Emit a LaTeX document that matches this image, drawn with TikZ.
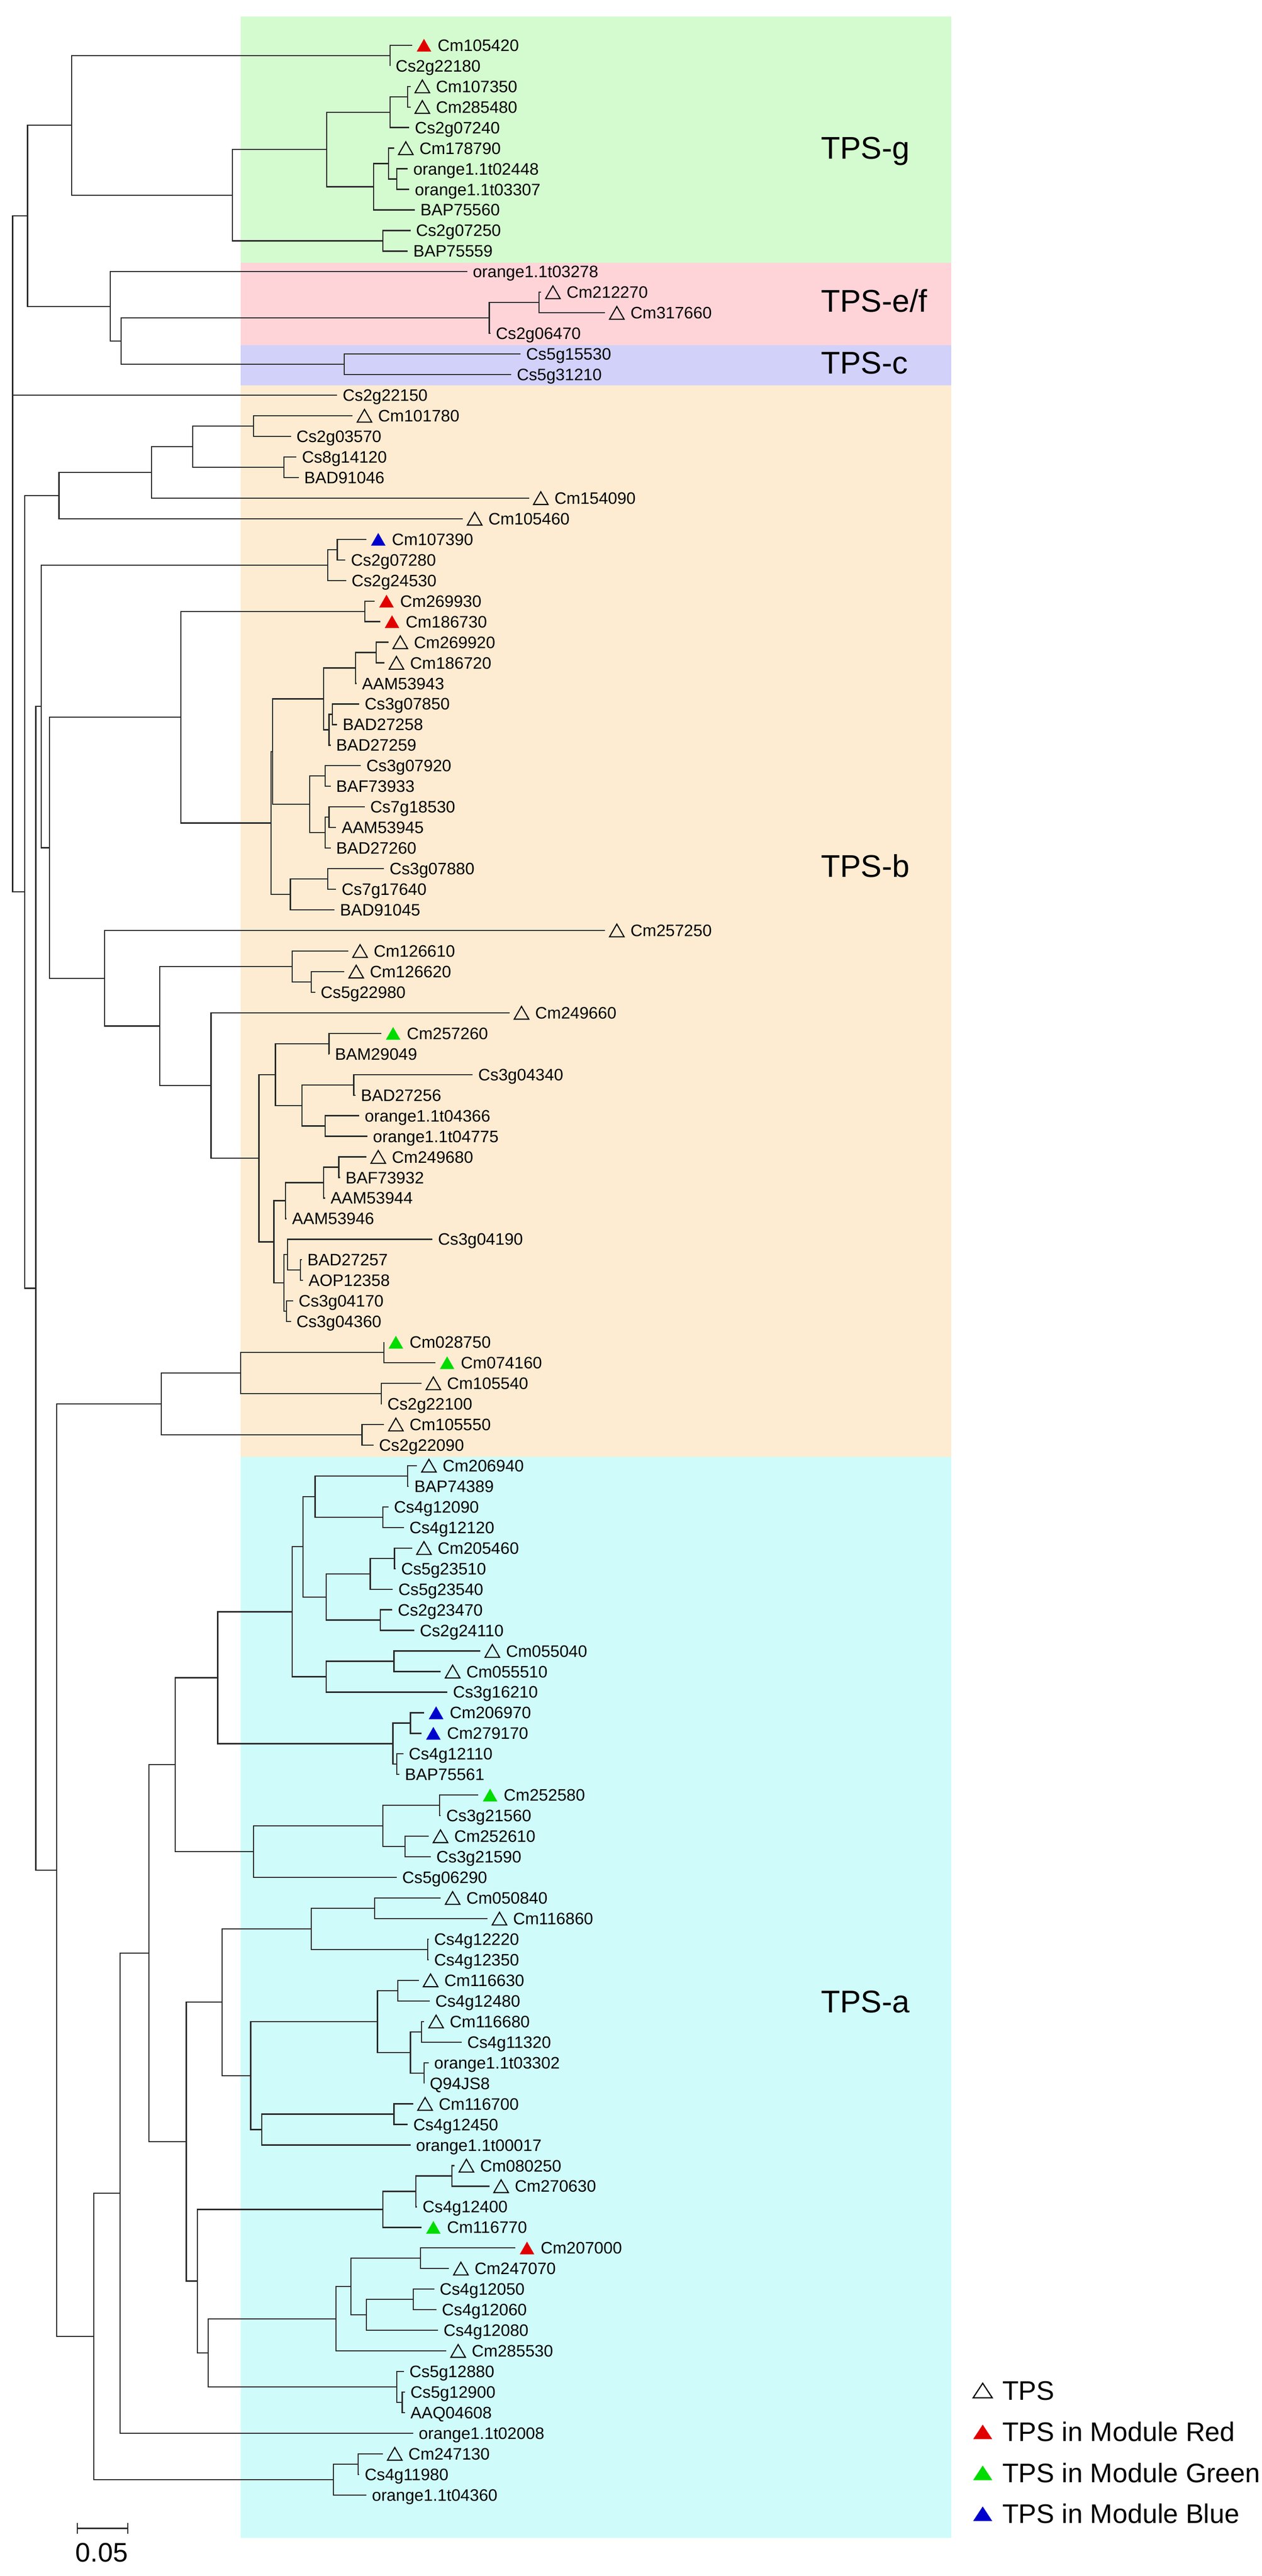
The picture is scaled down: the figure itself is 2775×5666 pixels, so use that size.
\documentclass[tikz,border=0pt]{standalone}
\usepackage{fontspec}
\setmainfont{Liberation Sans}
\usetikzlibrary{calc}
\definecolor{bgG}{RGB}{212,251,207}
\definecolor{bgP}{RGB}{255,212,217}
\definecolor{bgL}{RGB}{209,209,250}
\definecolor{bgO}{RGB}{253,236,209}
\definecolor{bgC}{RGB}{207,252,250}
\definecolor{brc}{RGB}{40,40,40}
\definecolor{mkR}{RGB}{225,0,0}
\definecolor{mkG}{RGB}{0,220,0}
\definecolor{mkB}{RGB}{0,0,205}
\tikzset{
  branch/.style={draw=brc,line width=2.6pt,line join=miter},
  lab/.style={anchor=west,inner sep=0pt,font={\fontsize{36.5}{41}\selectfont},text height=26.1pt,text depth=0pt},
  clab/.style={anchor=west,inner sep=0pt,font={\fontsize{69}{80}\selectfont},text height=49.4pt,text depth=0pt},
  glab/.style={anchor=west,inner sep=0pt,font={\fontsize{59}{68}\selectfont},text height=42.2pt,text depth=0pt},
  mo/.style={draw=black,line width=2.4pt,line join=miter,fill=none},
  mr/.style={fill=mkR},
  mg/.style={fill=mkG},
  mb/.style={fill=mkB},
}
\newcommand\LF[3]{%
  \coordinate (t#1) at ({#2*1.2117},{99.5+(#1-1)*45.28});
  \node[lab] (l#1) at ([xshift=12pt]t#1) {#3};}
\newcommand\LM[4]{%
  \coordinate (t#1) at ({#2*1.2117},{99.5+(#1-1)*45.28});
  \path[#4] ([xshift=10pt,yshift=-14pt]t#1) -- ++(16pt,28pt) -- ++(16pt,-28pt) -- cycle;
  \node[lab] (l#1) at ([xshift=56pt]t#1) {#3};}
\newcommand\CL[4]{%
  \path let \p1=($(#3)!0.5!(#4)$) in ({#2*1.2117},\y1) coordinate (#1);
  \draw[branch] (#3) -- (#3 -| #1) -- (#4 -| #1) -- (#4);}
\begin{document}
\begin{tikzpicture}[x=1pt,y=-1pt]
\useasboundingbox (0,0) rectangle (2775,5666);
\fill[white] (0,0) rectangle (2775,5666);
% clade bands
\fill[bgG] (529.5,36) rectangle (2092,578);
\fill[bgP] (529.5,578) rectangle (2092,759);
\fill[bgL] (529.5,759) rectangle (2092,848);
\fill[bgO] (529.5,848) rectangle (2092,3205);
\fill[bgC] (529.5,3205) rectangle (2092,5582);
\node[clab] (TPSg) at (1805,325) {TPS-g};
\node[clab] (TPSef) at (1805,661) {TPS-e/f};
\node[clab] (TPSc) at (1805,797) {TPS-c};
\node[clab] (TPSb) at (1805,1905) {TPS-b};
\node[clab] (TPSa) at (1805,4402) {TPS-a};
% leaves
\LM{1}{748}{Cm105420}{mr}
\LF{2}{708}{Cs2g22180}
\LM{3}{745}{Cm107350}{mo}
\LM{4}{745}{Cm285480}{mo}
\LF{5}{743}{Cs2g07240}
\LM{6}{715}{Cm178790}{mo}
\LF{7}{740}{orange1.1t02448}
\LF{8}{743}{orange1.1t03307}
\LF{9}{753}{BAP75560}
\LF{10}{745}{Cs2g07250}
\LF{11}{740}{BAP75559}
\LF{12}{848}{orange1.1t03278}
\LM{13}{982}{Cm212270}{mo}
\LM{14}{1098}{Cm317660}{mo}
\LF{15}{890}{Cs2g06470}
\LF{16}{945}{Cs5g15530}
\LF{17}{928}{Cs5g31210}
\LF{18}{612}{Cs2g22150}
\LM{19}{640}{Cm101780}{mo}
\LF{20}{528}{Cs2g03570}
\LF{21}{538}{Cs8g14120}
\LF{22}{542}{BAD91046}
\LM{23}{960}{Cm154090}{mo}
\LM{24}{840}{Cm105460}{mo}
\LM{25}{665}{Cm107390}{mb}
\LF{26}{627}{Cs2g07280}
\LF{27}{628}{Cs2g24530}
\LM{28}{680}{Cm269930}{mr}
\LM{29}{690}{Cm186730}{mr}
\LM{30}{705}{Cm269920}{mo}
\LM{31}{698}{Cm186720}{mo}
\LF{32}{647}{AAM53943}
\LF{33}{652}{Cs3g07850}
\LF{34}{612}{BAD27258}
\LF{35}{600}{BAD27259}
\LF{36}{655}{Cs3g07920}
\LF{37}{600}{BAF73933}
\LF{38}{662}{Cs7g18530}
\LF{39}{610}{AAM53945}
\LF{40}{600}{BAD27260}
\LF{41}{697}{Cs3g07880}
\LF{42}{610}{Cs7g17640}
\LF{43}{607}{BAD91045}
\LM{44}{1098}{Cm257250}{mo}
\LM{45}{632}{Cm126610}{mo}
\LM{46}{625}{Cm126620}{mo}
\LF{47}{572}{Cs5g22980}
\LM{48}{925}{Cm249660}{mo}
\LM{49}{692}{Cm257260}{mg}
\LF{50}{598}{BAM29049}
\LF{51}{858}{Cs3g04340}
\LF{52}{645}{BAD27256}
\LF{53}{652}{orange1.1t04366}
\LF{54}{667}{orange1.1t04775}
\LM{55}{665}{Cm249680}{mo}
\LF{56}{617}{BAF73932}
\LF{57}{590}{AAM53944}
\LF{58}{520}{AAM53946}
\LF{59}{785}{Cs3g04190}
\LF{60}{548}{BAD27257}
\LF{61}{550}{AOP12358}
\LF{62}{532}{Cs3g04170}
\LF{63}{528}{Cs3g04360}
\LM{64}{697}{Cm028750}{mg}
\LM{65}{790}{Cm074160}{mg}
\LM{66}{765}{Cm105540}{mo}
\LF{67}{693}{Cs2g22100}
\LM{68}{697}{Cm105550}{mo}
\LF{69}{678}{Cs2g22090}
\LM{70}{757}{Cm206940}{mo}
\LF{71}{742}{BAP74389}
\LF{72}{705}{Cs4g12090}
\LF{73}{733}{Cs4g12120}
\LM{74}{748}{Cm205460}{mo}
\LF{75}{718}{Cs5g23510}
\LF{76}{713}{Cs5g23540}
\LF{77}{712}{Cs2g23470}
\LF{78}{752}{Cs2g24110}
\LM{79}{872}{Cm055040}{mo}
\LM{80}{800}{Cm055510}{mo}
\LF{81}{812}{Cs3g16210}
\LM{82}{770}{Cm206970}{mb}
\LM{83}{765}{Cm279170}{mb}
\LF{84}{732}{Cs4g12110}
\LF{85}{725}{BAP75561}
\LM{86}{868}{Cm252580}{mg}
\LF{87}{800}{Cs3g21560}
\LM{88}{778}{Cm252610}{mo}
\LF{89}{782}{Cs3g21590}
\LF{90}{720}{Cs5g06290}
\LM{91}{800}{Cm050840}{mo}
\LM{92}{885}{Cm116860}{mo}
\LF{93}{778}{Cs4g12220}
\LF{94}{778}{Cs4g12350}
\LM{95}{760}{Cm116630}{mo}
\LF{96}{780}{Cs4g12480}
\LM{97}{770}{Cm116680}{mo}
\LF{98}{838}{Cs4g11320}
\LF{99}{778}{orange1.1t03302}
\LF{100}{770}{Q94JS8}
\LM{101}{750}{Cm116700}{mo}
\LF{102}{740}{Cs4g12450}
\LF{103}{745}{orange1.1t00017}
\LM{104}{825}{Cm080250}{mo}
\LM{105}{888}{Cm270630}{mo}
\LF{106}{757}{Cs4g12400}
\LM{107}{765}{Cm116770}{mg}
\LM{108}{935}{Cm207000}{mr}
\LM{109}{815}{Cm247070}{mo}
\LF{110}{788}{Cs4g12050}
\LF{111}{792}{Cs4g12060}
\LF{112}{795}{Cs4g12080}
\LM{113}{810}{Cm285530}{mo}
\LF{114}{733}{Cs5g12880}
\LF{115}{735}{Cs5g12900}
\LF{116}{735}{AAQ04608}
\LF{117}{750}{orange1.1t02008}
\LM{118}{695}{Cm247130}{mo}
\LF{119}{652}{Cs4g11980}
\LF{120}{665}{orange1.1t04360}
% TPS-g / e/f / c
\CL{A}{708}{t1}{t2}
\CL{B}{740}{t3}{t4}
\CL{C}{708}{B}{t5}
\CL{D}{720}{t7}{t8}
\CL{E}{705}{t6}{D}
\CL{F}{678}{E}{t9}
\CL{G}{593}{C}{F}
\CL{H}{695}{t10}{t11}
\CL{I}{422}{G}{H}
\CL{J}{130}{A}{I}
\CL{K}{978}{t13}{t14}
\CL{L}{888}{K}{t15}
\CL{M}{625}{t16}{t17}
\CL{N}{220}{L}{M}
\CL{O}{200}{t12}{N}
\CL{P}{50}{J}{O}
% TPS-b
\CL{b460}{460}{t19}{t20}
\CL{b515}{515}{t21}{t22}
\CL{b350}{350}{b460}{b515}
\CL{b275}{275}{b350}{t23}
\CL{R}{107}{b275}{t24}
\CL{b612}{612}{t25}{t26}
\CL{b595}{595}{b612}{t27}
\CL{b662}{662}{t28}{t29}
\CL{b683}{683}{t30}{t31}
\CL{b645}{645}{b683}{t32}
\CL{b603}{603}{t33}{t34}
\CL{b597}{597}{b603}{t35}
\CL{b587}{587}{b645}{b597}
\CL{b590a}{590}{t36}{t37}
\CL{b597b}{597}{t38}{t39}
\CL{b590b}{590}{b597b}{t40}
\CL{b562}{562}{b590a}{b590b}
\CL{bZ}{495}{b587}{b562}
\CL{b595b}{595}{t41}{t42}
\CL{b527}{527}{b595b}{t43}
\CL{b493}{492}{bZ}{b527}
\CL{b328}{328}{b662}{b493}
\CL{b565}{565}{t46}{t47}
\CL{b530}{530}{t45}{b565}
\CL{b597c}{597}{t49}{t50}
\CL{b642}{642}{t51}{t52}
\CL{b590c}{590}{t53}{t54}
\CL{b548}{548}{b642}{b590c}
\CL{b500}{500}{b597c}{b548}
\CL{b615}{615}{t55}{t56}
\CL{b587b}{587}{b615}{t57}
\CL{b518}{518}{b587b}{t58}
\CL{b545}{545}{t60}{t61}
\CL{b522}{522}{t59}{b545}
\CL{b520}{520}{t62}{t63}
\CL{b515b}{515}{b522}{b520}
\CL{b497}{497}{b518}{b515b}
\CL{b470}{470}{b500}{b497}
\CL{b383}{383}{t48}{b470}
\CL{b290}{290}{b530}{b383}
\CL{b190}{190}{t44}{b290}
\CL{b90}{90}{b328}{b190}
\CL{b75}{75}{b595}{b90}
\CL{b697}{697}{t64}{t65}
\CL{b692}{692}{t66}{t67}
\CL{b437}{437}{b697}{b692}
\CL{b657}{657}{t68}{t69}
\CL{b293}{293}{b437}{b657}
% TPS-a
\CL{a740}{740}{t70}{t71}
\CL{a695}{695}{t72}{t73}
\CL{a572}{572}{a740}{a695}
\CL{a716}{716}{t74}{t75}
\CL{a672}{672}{a716}{t76}
\CL{a690}{690}{t77}{t78}
\CL{a592}{592}{a672}{a690}
\CL{a550}{550}{a572}{a592}
\CL{a715}{715}{t79}{t80}
\CL{a592b}{592}{a715}{t81}
\CL{a530}{530}{a550}{a592b}
\CL{a745}{745}{t82}{t83}
\CL{a720}{720}{t84}{t85}
\CL{a713}{713}{a745}{a720}
\CL{a395}{395}{a530}{a713}
\CL{a798}{798}{t86}{t87}
\CL{a735}{735}{t88}{t89}
\CL{a695b}{695}{a798}{a735}
\CL{a460}{460}{a695b}{t90}
\CL{a318}{318}{a395}{a460}
\CL{a680}{680}{t91}{t92}
\CL{a776}{776}{t93}{t94}
\CL{a565}{565}{a680}{a776}
\CL{a722}{722}{t95}{t96}
\CL{a765}{765}{t97}{t98}
\CL{a770}{770}{t99}{t100}
\CL{a745b}{745}{a765}{a770}
\CL{a685}{685}{a722}{a745b}
\CL{a715b}{715}{t101}{t102}
\CL{a475}{475}{a715b}{t103}
\CL{a455}{455}{a685}{a475}
\CL{a403}{403}{a565}{a455}
\CL{a820}{820}{t104}{t105}
\CL{a755}{755}{a820}{t106}
\CL{a695c}{695}{a755}{t107}
\CL{a763}{763}{t108}{t109}
\CL{a750}{750}{t110}{t111}
\CL{a665}{665}{a750}{t112}
\CL{a637}{637}{a763}{a665}
\CL{a610}{610}{a637}{t113}
\CL{a730}{730}{t115}{t116}
\CL{a720b}{720}{t114}{a730}
\CL{a378}{378}{a610}{a720b}
\CL{a358}{358}{a695c}{a378}
\CL{a338}{338}{a403}{a358}
\CL{a270}{270}{a318}{a338}
\CL{a218}{218}{a270}{t117}
\CL{a650}{650}{t118}{t119}
\CL{a605}{605}{a650}{t120}
\CL{a170}{170}{a218}{a605}
\CL{a103}{103}{b293}{a170}
\CL{S}{65}{b75}{a103}
\CL{Q}{45}{R}{S}
% root (trifurcation)
\path let \p1=($(P)!0.5!(Q)$) in ({23*1.2117},\y1) coordinate (root);
\draw[branch] (P) -- (P -| root) -- (Q -| root) -- (Q);
\draw[branch] (t18) -- (t18 -| root);
% scale bar
\coordinate (sb1) at (170,5561);
\coordinate (sb2) at (281,5561);
\draw[branch] (sb1) -- (sb2);
\draw[branch] ([yshift=12pt]sb1) -- ([yshift=-12pt]sb1);
\draw[branch] ([yshift=12pt]sb2) -- ([yshift=-12pt]sb2);
\node[glab] (sbl) at (166,5614) {0.05};
% legend
\coordinate (g1) at (2140,5258);
\coordinate (g2) at (2140,5349);
\coordinate (g3) at (2140,5439);
\coordinate (g4) at (2140,5529);
\path[mo,line width=2.6pt] ([yshift=-16pt]g1) -- ++(21pt,32pt) -- ++(21pt,-32pt) -- cycle;
\path[mr] ([yshift=-16pt]g2) -- ++(21pt,32pt) -- ++(21pt,-32pt) -- cycle;
\path[mg] ([yshift=-16pt]g3) -- ++(21pt,32pt) -- ++(21pt,-32pt) -- cycle;
\path[mb] ([yshift=-16pt]g4) -- ++(21pt,32pt) -- ++(21pt,-32pt) -- cycle;
\node[glab] (lg1) at ([xshift=64pt]g1) {TPS};
\node[glab] (lg2) at ([xshift=64pt]g2) {TPS in Module Red};
\node[glab] (lg3) at ([xshift=64pt]g3) {TPS in Module Green};
\node[glab] (lg4) at ([xshift=64pt]g4) {TPS in Module Blue};
\end{tikzpicture}
\end{document}
